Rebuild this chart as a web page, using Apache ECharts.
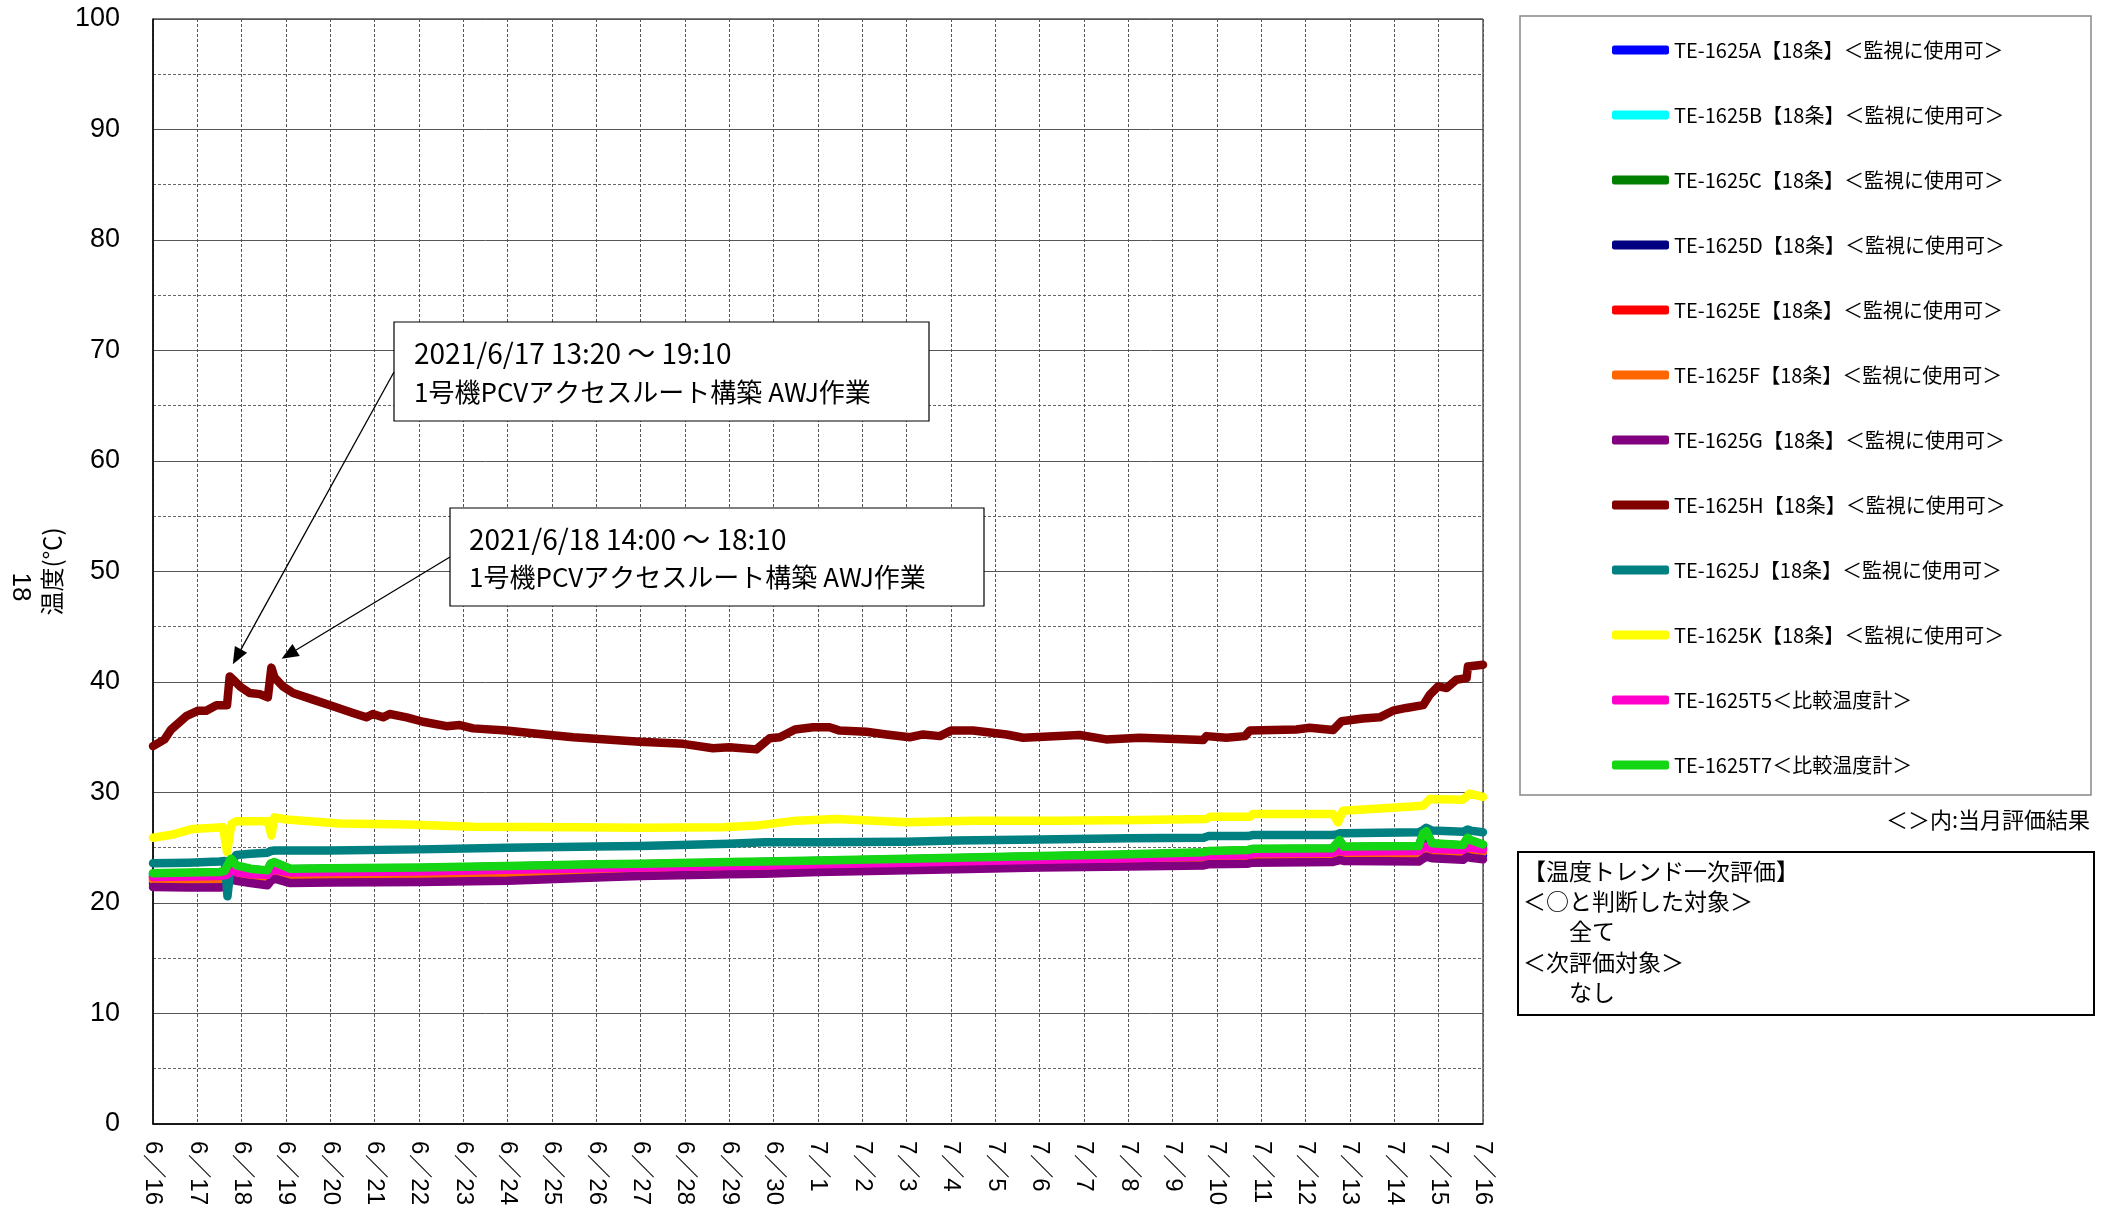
<!DOCTYPE html>
<html>
<head>
<meta charset="utf-8">
<script src="https://cdn.jsdelivr.net/npm/echarts@6/dist/echarts.min.js"></script>
<style>
html,body{margin:0;padding:0;background:#fff;}
#chart{width:2107px;height:1208px;}
</style>
</head>
<body>
<div id="chart"></div>
<script>
// ---- data ----
const xTickLabels = ['6/16','6/17','6/18','6/19','6/20','6/21','6/22','6/23','6/24','6/25','6/26','6/27','6/28','6/29','6/30',
  '7/1','7/2','7/3','7/4','7/5','7/6','7/7','7/8','7/9','7/10','7/11','7/12','7/13','7/14','7/15','7/16'];

const seriesNames = [
  'TE-1625A【18条】＜監視に使用可＞','TE-1625B【18条】＜監視に使用可＞','TE-1625C【18条】＜監視に使用可＞',
  'TE-1625D【18条】＜監視に使用可＞','TE-1625E【18条】＜監視に使用可＞','TE-1625F【18条】＜監視に使用可＞',
  'TE-1625G【18条】＜監視に使用可＞','TE-1625H【18条】＜監視に使用可＞','TE-1625J【18条】＜監視に使用可＞',
  'TE-1625K【18条】＜監視に使用可＞','TE-1625T5＜比較温度計＞','TE-1625T7＜比較温度計＞'];
const seriesColors = ['#0000FF','#00FFFF','#008000','#000080','#FF0000','#FF6600','#800080','#800000','#008080','#FFFF00','#FF00CC','#14D614'];

// time in days since 6/16 0:00
const hT = [0,0.26,0.41,0.75,1.02,1.2,1.43,1.67,1.73,1.84,1.96,2.18,2.41,2.59,2.67,2.74,2.93,3.16,3.61,4.06,4.51,4.81,4.96,5.19,5.34,5.72,6.09,6.62,6.92,7.22,7.97,8.72,9.48,10.23,10.98,11.96,12.63,13.0,13.61,13.91,14.14,14.48,14.89,15.26,15.49,16.09,16.54,17.07,17.37,17.75,18.0,18.5,19.25,19.63,20.9,21.5,22.26,23.69,23.76,24.21,24.63,24.74,25.79,26.09,26.62,26.81,27.29,27.67,27.97,28.27,28.65,28.8,28.99,29.18,29.4,29.63,29.66,30];
const hV = [34.2,34.8,35.7,36.9,37.4,37.4,37.9,37.9,40.5,40.1,39.6,39.0,38.9,38.6,41.3,40.4,39.6,39.0,38.4,37.8,37.2,36.8,37.1,36.8,37.1,36.8,36.4,36.0,36.1,35.8,35.6,35.3,35.0,34.8,34.6,34.4,34.0,34.1,33.9,34.9,35.0,35.7,35.9,35.9,35.6,35.5,35.25,35.0,35.25,35.1,35.6,35.6,35.25,34.95,35.2,34.8,34.95,34.75,35.1,34.95,35.1,35.6,35.7,35.85,35.65,36.45,36.7,36.8,37.4,37.65,37.9,38.85,39.6,39.45,40.2,40.35,41.4,41.55];

const kT = [0,0.45,0.9,1.58,1.67,1.77,1.88,2.59,2.67,2.74,3.01,4.21,5.72,7.22,9.48,10.98,12.86,13.61,14.51,15.42,16.99,18.5,20.38,22.26,23.76,23.84,24.74,24.81,26.62,26.73,26.84,28.04,28.65,28.8,29.55,29.7,30];
const kV = [25.9,26.2,26.7,26.85,24.6,27.15,27.4,27.4,26.1,27.75,27.55,27.2,27.1,26.9,26.85,26.8,26.85,27.0,27.45,27.6,27.3,27.45,27.45,27.5,27.6,27.8,27.8,28.05,28.05,27.3,28.35,28.65,28.8,29.4,29.35,29.9,29.6];

const lowT = [0,0.8,1.5,1.62,1.68,1.76,1.88,2.2,2.58,2.66,2.74,3.1,4,6,8,10,11,13,13.8,15,17,18.1,20,22,23.7,23.8,24.7,24.8,26.6,26.7,26.76,26.86,28.55,28.65,28.72,28.85,29.55,29.65,29.72,30];
const aV = [21.8,21.75,21.75,21.8,21.95,22.55,22.35,22.15,21.95,22.35,22.55,22.15,22.2,22.25,22.35,22.65,22.8,22.95,23.0,23.15,23.3,23.4,23.55,23.65,23.75,23.85,23.9,24.0,24.05,24.15,24.25,24.15,24.1,24.35,24.55,24.4,24.25,24.55,24.45,24.3];
const bV = [22.55,22.6,22.65,22.75,23.25,23.85,23.25,22.95,22.8,23.45,23.55,22.95,23.0,23.05,23.2,23.35,23.4,23.55,23.6,23.7,23.85,23.95,24.1,24.25,24.45,24.55,24.65,24.75,24.8,25.25,25.55,24.95,25.0,26.15,26.35,25.25,25.1,25.75,25.55,25.15];
const cV = [22.4,22.45,22.5,22.6,23.1,23.7,23.1,22.8,22.65,23.3,23.4,22.8,22.85,22.9,23.05,23.2,23.25,23.4,23.45,23.55,23.7,23.8,23.95,24.1,24.3,24.4,24.5,24.6,24.65,25.1,25.4,24.8,24.85,26.0,26.2,25.1,24.95,25.6,25.4,25.0];
const dV = [22.65,22.7,22.75,22.85,23.35,23.95,23.35,23.05,22.9,23.55,23.65,23.05,23.1,23.15,23.3,23.45,23.5,23.65,23.7,23.8,23.95,24.05,24.2,24.35,24.55,24.65,24.75,24.85,24.9,25.35,25.65,25.05,25.1,26.25,26.45,25.35,25.2,25.85,25.65,25.25];
const eV = [22.2,22.25,22.3,22.35,22.45,22.85,22.65,22.45,22.4,22.75,22.85,22.6,22.65,22.7,22.85,23.0,23.05,23.2,23.25,23.35,23.5,23.6,23.75,23.9,24.05,24.15,24.2,24.35,24.4,24.55,24.65,24.5,24.55,24.85,24.95,24.75,24.65,24.95,24.85,24.75];
const fV = [22.05,22.1,22.15,22.2,22.3,22.7,22.5,22.3,22.25,22.6,22.7,22.45,22.5,22.55,22.7,22.85,22.9,23.05,23.1,23.2,23.35,23.45,23.6,23.75,23.9,24.0,24.05,24.2,24.25,24.4,24.5,24.35,24.4,24.7,24.8,24.6,24.5,24.8,24.7,24.6];
const gV = [21.45,21.4,21.4,21.45,21.6,22.2,22.0,21.8,21.6,22.0,22.2,21.8,21.85,21.9,22.0,22.3,22.45,22.6,22.65,22.8,22.95,23.05,23.2,23.3,23.4,23.5,23.55,23.65,23.7,23.8,23.9,23.8,23.75,24.0,24.2,24.05,23.9,24.2,24.1,23.95];
const jV = [23.6,23.65,23.75,23.8,20.6,23.6,24.35,24.45,24.55,24.7,24.75,24.75,24.75,24.85,25.0,25.1,25.15,25.35,25.5,25.5,25.55,25.65,25.75,25.85,25.9,26.05,26.05,26.15,26.15,26.2,26.3,26.3,26.4,26.6,26.8,26.55,26.45,26.65,26.55,26.4];
const t5V = [22.35,22.4,22.45,22.5,22.6,23.0,22.8,22.6,22.55,22.9,23.0,22.75,22.8,22.85,23.0,23.15,23.2,23.35,23.4,23.5,23.65,23.75,23.9,24.05,24.2,24.3,24.35,24.5,24.55,24.7,24.8,24.65,24.7,25.0,25.1,24.9,24.8,25.1,25.0,24.85];
const t7V = [22.7,22.75,22.8,22.9,23.4,24.0,23.4,23.1,22.95,23.6,23.7,23.1,23.15,23.2,23.35,23.5,23.55,23.7,23.75,23.85,24.0,24.1,24.25,24.4,24.6,24.7,24.8,24.9,24.95,25.4,25.7,25.1,25.15,26.3,26.5,25.4,25.25,25.9,25.7,25.3];

const annot1Lines = ['2021/6/17 13:20 ～ 19:10','1号機PCVアクセスルート構築 AWJ作業'];
const annot2Lines = ['2021/6/18 14:00 ～ 18:10','1号機PCVアクセスルート構築 AWJ作業'];
const annot1Tip = [1.8, 41.6];
const annot2Tip = [2.9, 42.1];
const evalLines = ['【温度トレンド一次評価】','＜○と判断した対象＞','　　全て','＜次評価対象＞','　　なし'];
const noteText = '＜＞内:当月評価結果';

// ---- build ----
const zip = (t, v) => t.map((x, i) => [x, v[i]]);
const seriesData = [
  zip(lowT,aV), zip(lowT,bV), zip(lowT,cV), zip(lowT,dV), zip(lowT,eV), zip(lowT,fV), zip(lowT,gV),
  zip(hT,hV), zip(lowT,jV), zip(kT,kV), zip(lowT,t5V), zip(lowT,t7V)
];

const JP = 'Noto Sans CJK JP';
const chart = echarts.init(document.getElementById('chart'), null, {renderer:'canvas'});

const option = {
  animation: false,
  backgroundColor: '#fff',
  color: seriesColors,
  grid: {left:153, top:19, width:1330, height:1110, show:true, borderColor:'#000', borderWidth:1, backgroundColor:'transparent'},
  xAxis: {
    type:'value', min:0, max:30, interval:1,
    axisLine:{show:true, onZero:false, lineStyle:{color:'#000', width:1.5}},
    axisTick:{show:false},
    axisLabel:{rotate:-90, margin:17, fontSize:24, color:'#000', fontFamily:'Liberation Sans, ' + JP,
      formatter:(v)=> (xTickLabels[Math.round(v)] || '').replace('/', '／')},
    splitLine:{show:true, lineStyle:{color:'#555', width:1, type:[3,2]}}
  },
  yAxis: {
    type:'value', min:0, max:100, interval:10,
    axisLine:{show:true, lineStyle:{color:'#000', width:1.5}},
    axisTick:{show:false},
    axisLabel:{fontSize:27, color:'#000', margin:33, fontFamily:'Liberation Sans'},
    splitLine:{show:true, lineStyle:{color:'#555', width:1}},
    minorTick:{show:false, splitNumber:2},
    minorSplitLine:{show:true, lineStyle:{color:'#666', width:1, type:[3,2]}},
    name:'温度(℃)', nameLocation:'middle', nameRotate:90, nameGap:73,
    nameTextStyle:{fontSize:24, color:'#000', fontFamily:JP}
  },
  legend: {
    orient:'vertical', left:1607, top:35, itemWidth:57, itemHeight:9, itemGap:45,
    icon:'roundRect', selectedMode:false,
    textStyle:{fontSize:20, color:'#000', fontFamily:JP},
    data: seriesNames
  },
  series: seriesNames.map((n, i) => ({
    name:n, type:'line', data:seriesData[i], showSymbol:false, symbol:'none',
    lineStyle:{width:8.5, color:seriesColors[i], cap:'round', join:'round'},
    itemStyle:{color:seriesColors[i]},
    z: 2 + i
  }))
};
chart.setOption(option);

// ---- annotations / side boxes ----
function arrow(from, tip) {
  const dx = tip[0]-from[0], dy = tip[1]-from[1];
  const len = Math.sqrt(dx*dx+dy*dy), ux = dx/len, uy = dy/len;
  const L = 17, W = 7;
  const bx = tip[0]-ux*L, by = tip[1]-uy*L;
  return [
    {type:'line', shape:{x1:from[0], y1:from[1], x2:bx, y2:by}, style:{stroke:'#000', lineWidth:1.3}, z:100},
    {type:'polygon', shape:{points:[[tip[0],tip[1]],[bx-uy*W, by+ux*W],[bx+uy*W, by-ux*W]]}, style:{fill:'#000'}, z:100}
  ];
}
const p1 = chart.convertToPixel({gridIndex:0}, annot1Tip);
const p2 = chart.convertToPixel({gridIndex:0}, annot2Tip);

const g = [];
// annotation boxes
g.push({type:'rect', shape:{x:394, y:322, width:535, height:99}, style:{fill:'#fff', stroke:'#000', lineWidth:1.2}, z:100});
g.push({type:'text', x:414, y:353, style:{text:annot1Lines[0], font:'28px "'+JP+'"', fill:'#000', textVerticalAlign:'middle'}, z:101});
g.push({type:'text', x:414, y:392, style:{text:annot1Lines[1], font:'26px "'+JP+'"', fill:'#000', textVerticalAlign:'middle'}, z:101});
g.push({type:'rect', shape:{x:450, y:508, width:534, height:98}, style:{fill:'#fff', stroke:'#000', lineWidth:1.2}, z:100});
g.push({type:'text', x:469, y:539, style:{text:annot2Lines[0], font:'28px "'+JP+'"', fill:'#000', textVerticalAlign:'middle'}, z:101});
g.push({type:'text', x:469, y:577, style:{text:annot2Lines[1], font:'26px "'+JP+'"', fill:'#000', textVerticalAlign:'middle'}, z:101});
g.push(...arrow([394, 372], p1));
g.push(...arrow([450, 557], p2));
// legend frame
g.push({type:'rect', shape:{x:1520, y:16, width:571, height:779}, style:{fill:'none', stroke:'#888', lineWidth:1.5}, z:0});
// note
g.push({type:'text', x:2090, y:820, style:{text:noteText, font:'22px "'+JP+'"', fill:'#000', textAlign:'right', textVerticalAlign:'middle'}, z:10});
// evaluation box
g.push({type:'rect', shape:{x:1518, y:852, width:576, height:163}, style:{fill:'#fff', stroke:'#000', lineWidth:2}, z:10});
const evalY = [871, 901, 931, 962, 992];
evalLines.forEach((t, i) => {
  g.push({type:'text', x:1523, y:evalY[i], style:{text:t, font:'23px "'+JP+'"', fill:'#000', textVerticalAlign:'middle'}, z:11});
});
// stray axis caption
g.push({type:'text', x:20, y:587, rotation:-Math.PI/2, style:{text:'18', font:'26px "Liberation Sans"', fill:'#000', textAlign:'center', textVerticalAlign:'middle'}, z:10});

chart.setOption({graphic: g});
</script>
</body>
</html>
